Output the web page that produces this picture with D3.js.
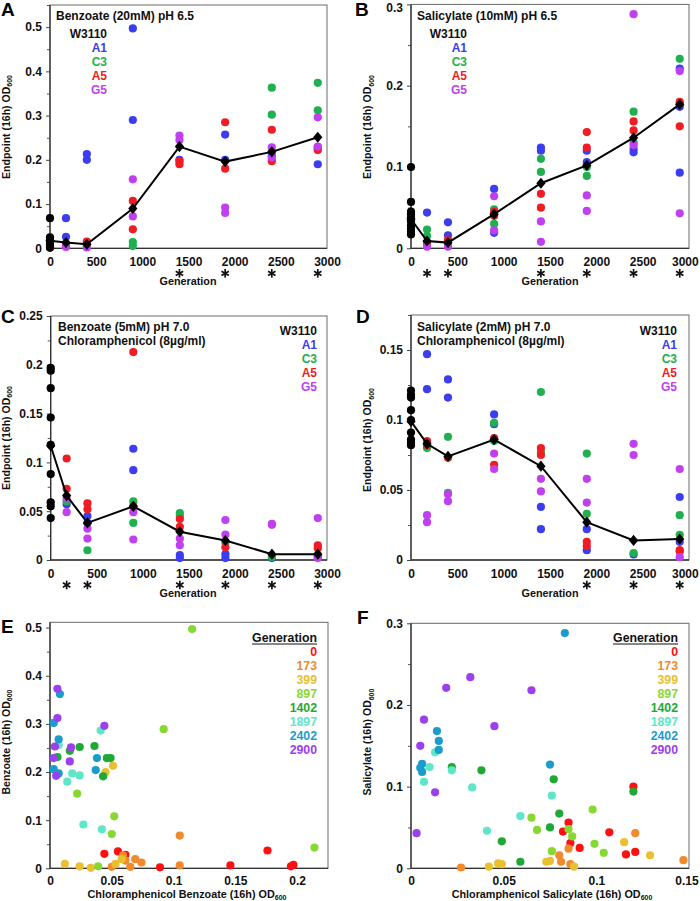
<!DOCTYPE html>
<html><head><meta charset="utf-8">
<script src="https://cdn.jsdelivr.net/npm/d3@7"></script>
<style>
body{margin:0;background:#fff}
text{font-family:"Liberation Sans",Arial,Helvetica,sans-serif;font-weight:bold}
</style>
</head><body>
<svg id="chart" width="700" height="901"></svg>
<script>
// ---------------- DATA ----------------
const generations = [0, 173, 399, 897, 1402, 1897, 2402, 2900];
const genTicks = [0, 500, 1000, 1500, 2000, 2500, 3000];
const strainNames = ["W3110", "A1", "C3", "A5", "G5"];
const strainColors = ["#000000", "#3d3df0", "#20b050", "#f01c24", "#c040f0"];

// Panel A: Benzoate (20mM) pH 6.5
const benz65_W3110 = [0.068, 0.025, 0.020, 0.015, 0.010, 0.006, 0.003, 0.001];
const benz65_A1 = [[173,0.068],[173,0.026],[399,0.213],[399,0.200],[897,0.497],[897,0.290],[1402,0.200],[1897,0.257],[1897,0.200],[2402,0.210],[2900,0.229],[2900,0.190]];
const benz65_C3 = [[173,0.010],[399,0.005],[897,0.014],[897,0.005],[2402,0.363],[2402,0.302],[2900,0.374],[2900,0.312]];
const benz65_A5 = [[173,0.008],[399,0.015],[897,0.107],[897,0.043],[1402,0.190],[1402,0.197],[1897,0.285],[1897,0.180],[2402,0.268],[2402,0.197],[2900,0.222],[2900,0.225]];
const benz65_G5 = [[173,0.003],[399,0.002],[897,0.156],[897,0.072],[1402,0.255],[1402,0.245],[1897,0.092],[1897,0.080],[2402,0.228],[2402,0.205],[2900,0.296],[2900,0.230]];
const benz65_mean = [0.017, 0.013, 0.009, 0.090, 0.230, 0.196, 0.218, 0.251];
const benz65_sig = [1402, 1897, 2402, 2900];

// Panel B: Salicylate (10mM) pH 6.5
const sal65_W3110 = [0.100, 0.057, 0.045, 0.042, 0.038, 0.033, 0.028, 0.024, 0.020, 0.017];
const sal65_A1 = [[173,0.044],[399,0.032],[399,0.016],[897,0.073],[897,0.019],[1402,0.124],[1402,0.120],[1897,0.120],[1897,0.106],[2402,0.122],[2402,0.118],[2900,0.221],[2900,0.174],[2900,0.093]];
const sal65_C3 = [[173,0.023],[173,0.015],[399,0.005],[897,0.048],[897,0.030],[1402,0.110],[1402,0.094],[1897,0.100],[1897,0.089],[2402,0.168],[2402,0.130],[2900,0.233],[2900,0.178]];
const sal65_A5 = [[173,0.006],[399,0.010],[897,0.045],[897,0.040],[1402,0.067],[1402,0.050],[1897,0.143],[1897,0.124],[2402,0.156],[2402,0.145],[2900,0.180],[2900,0.150]];
const sal65_G5 = [[173,0.002],[399,0.002],[897,0.064],[897,0.022],[1402,0.033],[1402,0.008],[1897,0.065],[1897,0.046],[2402,0.288],[2402,0.127],[2900,0.218],[2900,0.043]];
const sal65_mean = [0.036, 0.009, 0.007, 0.042, 0.080, 0.102, 0.136, 0.177];
const sal65_sig = [173, 399, 1402, 1897, 2402, 2900];

// Panel C: Benzoate (5mM) pH 7.0 Chloramphenicol
const benzCm_W3110 = [0.197, 0.194, 0.176, 0.146, 0.118, 0.088, 0.059, 0.055, 0.043];
const benzCm_A1 = [[173,0.057],[399,0.045],[399,0.038],[897,0.114],[897,0.092],[1402,0.005],[1402,0.002],[1897,0.006],[1897,0.002],[2402,0.002],[2900,0.003]];
const benzCm_C3 = [[173,0.060],[399,0.010],[897,0.060],[897,0.038],[1402,0.048],[1402,0.045],[1897,0.018],[2402,0.003],[2900,0.005]];
const benzCm_A5 = [[173,0.104],[173,0.073],[399,0.058],[399,0.052],[897,0.213],[897,0.055],[1402,0.042],[1402,0.034],[1897,0.013],[2900,0.015],[2900,0.012]];
const benzCm_G5 = [[173,0.063],[173,0.049],[399,0.032],[399,0.022],[897,0.049],[897,0.021],[1402,0.022],[1402,0.015],[1897,0.041],[1897,0.026],[2402,0.037],[2402,0.036],[2900,0.043],[2900,0.002]];
const benzCm_mean = [0.117, 0.066, 0.038, 0.055, 0.029, 0.020, 0.006, 0.006];
const benzCm_sig = [173, 399, 1402, 1897, 2402, 2900];

// Panel D: Salicylate (2mM) pH 7.0 Chloramphenicol
const salCm_W3110 = [0.121, 0.118, 0.116, 0.107, 0.100, 0.091, 0.086, 0.084, 0.082];
const salCm_A1 = [[173,0.147],[173,0.122],[399,0.129],[399,0.116],[897,0.104],[897,0.097],[1402,0.038],[1402,0.022],[1897,0.022],[1897,0.007],[2402,0.004],[2900,0.045],[2900,0.013]];
const salCm_C3 = [[173,0.080],[399,0.088],[399,0.048],[897,0.098],[897,0.085],[1402,0.120],[1402,0.077],[1897,0.076],[1897,0.033],[2402,0.005],[2900,0.032],[2900,0.018]];
const salCm_A5 = [[173,0.085],[173,0.082],[399,0.073],[897,0.087],[897,0.068],[1402,0.080],[1402,0.075],[1897,0.013],[1897,0.010],[2900,0.007],[2900,0.006]];
const salCm_G5 = [[173,0.032],[173,0.027],[399,0.047],[399,0.042],[897,0.076],[897,0.065],[1402,0.058],[1402,0.049],[1897,0.058],[1897,0.041],[2402,0.083],[2402,0.075],[2900,0.065],[2900,0.002]];
const salCm_mean = [0.099, 0.083, 0.074, 0.086, 0.067, 0.027, 0.014, 0.015];
const salCm_sig = [1897, 2402, 2900];

// Panels E/F generation colours
const genColors = ["#ff1010", "#f08a2c", "#e8c030", "#88d834", "#1ea834", "#5ee6c8", "#1c9ccc", "#9a40ec"];

// Panel E: x = Chloramphenicol Benzoate, y = Benzoate
const scatE_0 = [[0.044,0.030],[0.055,0.035],[0.061,0.028],[0.089,0.002],[0.146,0.006],[0.176,0.037],[0.195,0.004],[0.197,0.007]];
const scatE_173 = [[0.105,0.068],[0.105,0.006],[0.059,0.027],[0.061,0.016],[0.065,0.003],[0.069,0.019],[0.074,0.012],[0.050,0.003]];
const scatE_399 = [[0.045,0.200],[0.051,0.213],[0.012,0.009],[0.024,0.004],[0.033,0.001],[0.053,0.009],[0.058,0.019]];
const scatE_897 = [[0.115,0.497],[0.092,0.289],[0.052,0.108],[0.050,0.071],[0.214,0.043],[0.039,0.004],[0.022,0.155]];
const scatE_1402 = [[0.024,0.252],[0.036,0.254],[0.016,0.244],[0.046,0.229],[0.049,0.229],[0.043,0.191],[0.006,0.231]];
const scatE_1897 = [[0.041,0.286],[0.018,0.197],[0.014,0.180],[0.024,0.193],[0.027,0.091],[0.042,0.081],[0.007,0.256]];
const scatE_2402 = [[0.008,0.362],[0.003,0.302],[0.007,0.268],[0.038,0.229],[0.037,0.204],[0.003,0.206],[0.007,0.197]];
const scatE_2900 = [[0.006,0.373],[0.006,0.312],[0.044,0.296],[0.004,0.253],[0.017,0.251],[0.003,0.229],[0.016,0.222],[0.005,0.192]];

// Panel F: x = Chloramphenicol Salicylate, y = Salicylate
const scatF_0 = [[0.120,0.100],[0.085,0.056],[0.082,0.045],[0.086,0.031],[0.091,0.025],[0.107,0.044],[0.116,0.017],[0.121,0.020]];
const scatF_173 = [[0.027,0.001],[0.080,0.016],[0.081,0.008],[0.085,0.024],[0.086,0.005],[0.121,0.043],[0.147,0.010]];
const scatF_399 = [[0.042,0.002],[0.047,0.006],[0.049,0.005],[0.073,0.008],[0.075,0.009],[0.088,0.002],[0.115,0.032],[0.129,0.016]];
const scatF_897 = [[0.065,0.062],[0.068,0.047],[0.076,0.021],[0.085,0.048],[0.087,0.039],[0.098,0.072],[0.099,0.030],[0.104,0.019]];
const scatF_1402 = [[0.022,0.124],[0.038,0.120],[0.049,0.033],[0.059,0.008],[0.075,0.050],[0.077,0.109],[0.080,0.067],[0.120,0.094]];
const scatF_1897 = [[0.013,0.142],[0.010,0.124],[0.022,0.120],[0.007,0.106],[0.033,0.099],[0.059,0.064],[0.041,0.046],[0.076,0.089]];
const scatF_2402 = [[0.083,0.288],[0.014,0.168],[0.015,0.156],[0.015,0.145],[0.006,0.128],[0.005,0.123],[0.006,0.118],[0.075,0.127]];
const scatF_2900 = [[0.032,0.234],[0.019,0.221],[0.065,0.218],[0.007,0.182],[0.045,0.174],[0.005,0.150],[0.013,0.093],[0.003,0.043]];

// ---------------- DRAWING ----------------
const svg = d3.select("#chart");
const fmt = d => d === 0 ? "0" : String(+(+d).toFixed(3));
const rng = (max, step) => d3.range(0, max + 1e-9, step).map(v => +v.toFixed(4));
const TICK_FS = 12;

function frame(g, x, y, o) {
  const yAx = g.append("g").attr("transform", `translate(${o.left},0)`)
    .call(d3.axisLeft(y).tickValues(rng(o.yMax, o.yStep)).tickSize(4).tickPadding(4).tickFormat(fmt));
  yAx.select(".domain").remove();
  yAx.selectAll("line").attr("stroke", "#444");
  yAx.selectAll("text").attr("font-size", TICK_FS).attr("fill", "#111")
    .style("font-family", '"Liberation Sans",Arial,sans-serif').style("font-weight", "bold")
    .each(function () {
      const b = this.getBBox();
      const tickY = +this.parentNode.getAttribute("transform").match(/,([-\d.]+)\)/)[1];
      const top = tickY + b.y;
      if (top < 1) d3.select(this).attr("y", 1 - top);
    });
  const minor = rng(o.yMax, o.yStep / 2).filter(v => Math.abs(v / o.yStep - Math.round(v / o.yStep)) > 1e-6);
  const yMin = g.append("g").attr("transform", `translate(${o.left},0)`)
    .call(d3.axisLeft(y).tickValues(minor).tickSize(3).tickFormat(""));
  yMin.select(".domain").remove();
  yMin.selectAll("line").attr("stroke", "#555");
  const xAx = g.append("g").attr("transform", `translate(0,${o.bottom})`)
    .call(d3.axisBottom(x).tickValues(o.xTicks).tickSize(0).tickFormat(fmt));
  xAx.select(".domain").remove();
  xAx.selectAll("text").attr("dy", null).attr("y", o.xLabelDy || 18).attr("font-size", TICK_FS).attr("fill", "#111")
    .style("font-family", '"Liberation Sans",Arial,sans-serif').style("font-weight", "bold")
    .each(function () {
      const b = this.getBBox();
      const tickX = +this.parentNode.getAttribute("transform").match(/translate\(([-\d.]+)/)[1];
      const over = tickX + b.x + b.width - 699;
      if (over > 0) d3.select(this).attr("x", -over);
    });
  g.append("rect").attr("x", o.left).attr("y", o.top)
    .attr("width", o.right - o.left).attr("height", o.bottom - o.top)
    .attr("fill", "none").attr("stroke", "#6a6a6a").attr("stroke-width", 1);
  g.append("path").attr("d", `M${o.left},${o.top}V${o.bottom}H${o.right}`)
    .attr("fill", "none").attr("stroke", "#333").attr("stroke-width", 1.3);
}

function yTitle(g, xBase, yc, main, sub) {
  const t = g.append("text").attr("transform", `translate(${xBase},${yc}) rotate(-90)`)
    .attr("text-anchor", "middle").attr("font-size", 10.5).attr("fill", "#111");
  t.append("tspan").text(main);
  t.append("tspan").attr("font-size", 7).attr("dy", 2.5).text(sub);
}
function xTitle(g, xc, yb, main, sub) {
  const t = g.append("text").attr("x", xc).attr("y", yb)
    .attr("text-anchor", "middle").attr("font-size", 10.8).attr("fill", "#111");
  t.append("tspan").text(main);
  if (sub) t.append("tspan").attr("font-size", 7).attr("dy", 2).text(sub);
}
function letter(g, x, y, s) {
  g.append("text").attr("x", x).attr("y", y).attr("font-size", 19).attr("fill", "#000").text(s);
}
function asterisk(g, cx, cy) {
  const r = 4.3;
  [90, 30, -30].forEach(a => {
    const dx = r * Math.cos(a * Math.PI / 180), dy = r * Math.sin(a * Math.PI / 180);
    g.append("line").attr("x1", cx - dx).attr("y1", cy - dy).attr("x2", cx + dx).attr("y2", cy + dy)
      .attr("stroke", "#111").attr("stroke-width", 1.7);
  });
}

function linePanel(o) {
  const g = svg.append("g");
  const x = d3.scaleLinear().domain([0, 3000]).range([o.left, o.right]);
  const y = d3.scaleLinear().domain([0, o.yMax]).range([o.bottom, o.top]);
  frame(g, x, y, Object.assign({ xTicks: genTicks }, o));
  o.strains.forEach((pts, i) => {
    g.append("g").selectAll("circle").data(pts).join("circle")
      .attr("cx", d => x(d[0])).attr("cy", d => y(d[1])).attr("r", 4.1)
      .attr("fill", strainColors[i + 1]);
  });
  g.append("g").selectAll("circle").data(o.w3110).join("circle")
    .attr("cx", x(0)).attr("cy", d => y(d)).attr("r", 4.1).attr("fill", "#000");
  const meanPts = generations.map((gen, i) => [gen, o.mean[i]]);
  g.append("path").datum(meanPts)
    .attr("d", d3.line().x(d => x(d[0])).y(d => y(d[1])))
    .attr("fill", "none").attr("stroke", "#000").attr("stroke-width", 2);
  g.append("g").selectAll("path").data(meanPts).join("path")
    .attr("transform", d => `translate(${x(d[0])},${y(d[1])})`)
    .attr("d", "M0,-5.6L4.6,0L0,5.6L-4.6,0Z").attr("fill", "#000");
  o.sig.forEach(gen => asterisk(g, x(gen), o.bottom + 25));
  xTitle(g, o.genX, o.bottom + 37, "Generation");
  yTitle(g, o.yTitleX, o.yTitleY, "Endpoint (16h) OD", "600");
  o.title.forEach((t, i) => g.append("text").attr("x", o.titleX).attr("y", o.titleY + i * 14.3)
    .attr("font-size", 12).attr("fill", "#111").text(t));
  strainNames.forEach((s, i) => g.append("text").attr("x", o.legX).attr("y", o.legY + i * 13.9)
    .attr("text-anchor", "end").attr("font-size", 12).attr("fill", i === 0 ? "#111" : strainColors[i]).text(s));
  letter(g, o.letterX, o.letterY, o.letter);
}

linePanel({ left: 50, right: 327, top: 5, bottom: 248.3, yMax: 0.55, yStep: 0.1,
  strains: [benz65_A1, benz65_C3, benz65_A5, benz65_G5], w3110: benz65_W3110, mean: benz65_mean, sig: benz65_sig,
  title: ["Benzoate (20mM) pH 6.5"], titleX: 56, titleY: 19.5, legX: 107, legY: 38.3,
  genX: 188, yTitleX: 9.5, yTitleY: 127, letter: "A", letterX: 1, letterY: 16 });
linePanel({ left: 411, right: 689, top: 4.4, bottom: 248.3, yMax: 0.3, yStep: 0.1,
  strains: [sal65_A1, sal65_C3, sal65_A5, sal65_G5], w3110: sal65_W3110, mean: sal65_mean, sig: sal65_sig,
  title: ["Salicylate (10mM) pH 6.5"], titleX: 417, titleY: 19.5, legX: 467, legY: 38.3,
  genX: 550, yTitleX: 371, yTitleY: 127, letter: "B", letterX: 355, letterY: 16 });
linePanel({ left: 50.7, right: 327, top: 316, bottom: 560, yMax: 0.25, yStep: 0.05,
  strains: [benzCm_A1, benzCm_C3, benzCm_A5, benzCm_G5], w3110: benzCm_W3110, mean: benzCm_mean, sig: benzCm_sig,
  title: ["Benzoate (5mM) pH 7.0", "Chloramphenicol (8\u00b5g/ml)"], titleX: 58, titleY: 331, legX: 317, legY: 335,
  genX: 188, yTitleX: 9.5, yTitleY: 438, letter: "C", letterX: 1, letterY: 323 });
linePanel({ left: 411, right: 689, top: 315, bottom: 560, yMax: 0.175, yStep: 0.05,
  strains: [salCm_A1, salCm_C3, salCm_A5, salCm_G5], w3110: salCm_W3110, mean: salCm_mean, sig: salCm_sig,
  title: ["Salicylate (2mM) pH 7.0", "Chloramphenicol (8\u00b5g/ml)"], titleX: 417, titleY: 331, legX: 677, legY: 335,
  genX: 550, yTitleX: 371, yTitleY: 440, letter: "D", letterX: 356, letterY: 323 });

function scatterPanel(o) {
  const g = svg.append("g");
  const x = d3.scaleLinear().domain([0, o.xMax]).range([o.left, o.right]);
  const y = d3.scaleLinear().domain([0, o.yMax]).range([o.bottom, o.top]);
  frame(g, x, y, Object.assign({ xTicks: rng(o.xMax, 0.05), xLabelDy: 17 }, o));
  o.groups.forEach((pts, i) => {
    g.append("g").selectAll("circle").data(pts).join("circle")
      .attr("cx", d => x(d[0])).attr("cy", d => y(d[1])).attr("r", 4.1).attr("fill", genColors[i]);
  });
  xTitle(g, o.xTitleX, o.bottom + 29.5, o.xTitle, "600");
  yTitle(g, o.yTitleX, o.yTitleY, o.yTitle, "600");
  const lt = g.append("text").attr("x", o.legX).attr("y", 641.5).attr("text-anchor", "end")
    .attr("font-size", 12.3).attr("fill", "#111").text("Generation");
  const w = lt.node().getComputedTextLength();
  g.append("line").attr("x1", o.legX - w).attr("x2", o.legX).attr("y1", 644).attr("y2", 644)
    .attr("stroke", "#111").attr("stroke-width", 1.1);
  generations.forEach((gen, i) => g.append("text").attr("x", o.legX).attr("y", 656 + i * 14.05)
    .attr("text-anchor", "end").attr("font-size", 12.3).attr("fill", genColors[i]).text(gen));
  letter(g, o.letterX, o.letterY, o.letter);
}

scatterPanel({ left: 50, right: 328, top: 622.3, bottom: 868.3, xMax: 0.225, yMax: 0.511, yStep: 0.1,
  groups: [scatE_0, scatE_173, scatE_399, scatE_897, scatE_1402, scatE_1897, scatE_2402, scatE_2900],
  xTitle: "Chloramphenicol Benzoate (16h) OD", xTitleX: 187, yTitle: "Benzoate (16h) OD", yTitleX: 9.5, yTitleY: 742,
  legX: 317, letter: "E", letterX: 1, letterY: 633 });
scatterPanel({ left: 411, right: 689, top: 623.3, bottom: 868.3, xMax: 0.15, yMax: 0.3, yStep: 0.1,
  groups: [scatF_0, scatF_173, scatF_399, scatF_897, scatF_1402, scatF_1897, scatF_2402, scatF_2900],
  xTitle: "Chloramphenicol Salicylate (16h) OD", xTitleX: 552, yTitle: "Salicylate (16h) OD", yTitleX: 371, yTitleY: 742,
  legX: 678, letter: "F", letterX: 357, letterY: 624 });
</script>
</body></html>
